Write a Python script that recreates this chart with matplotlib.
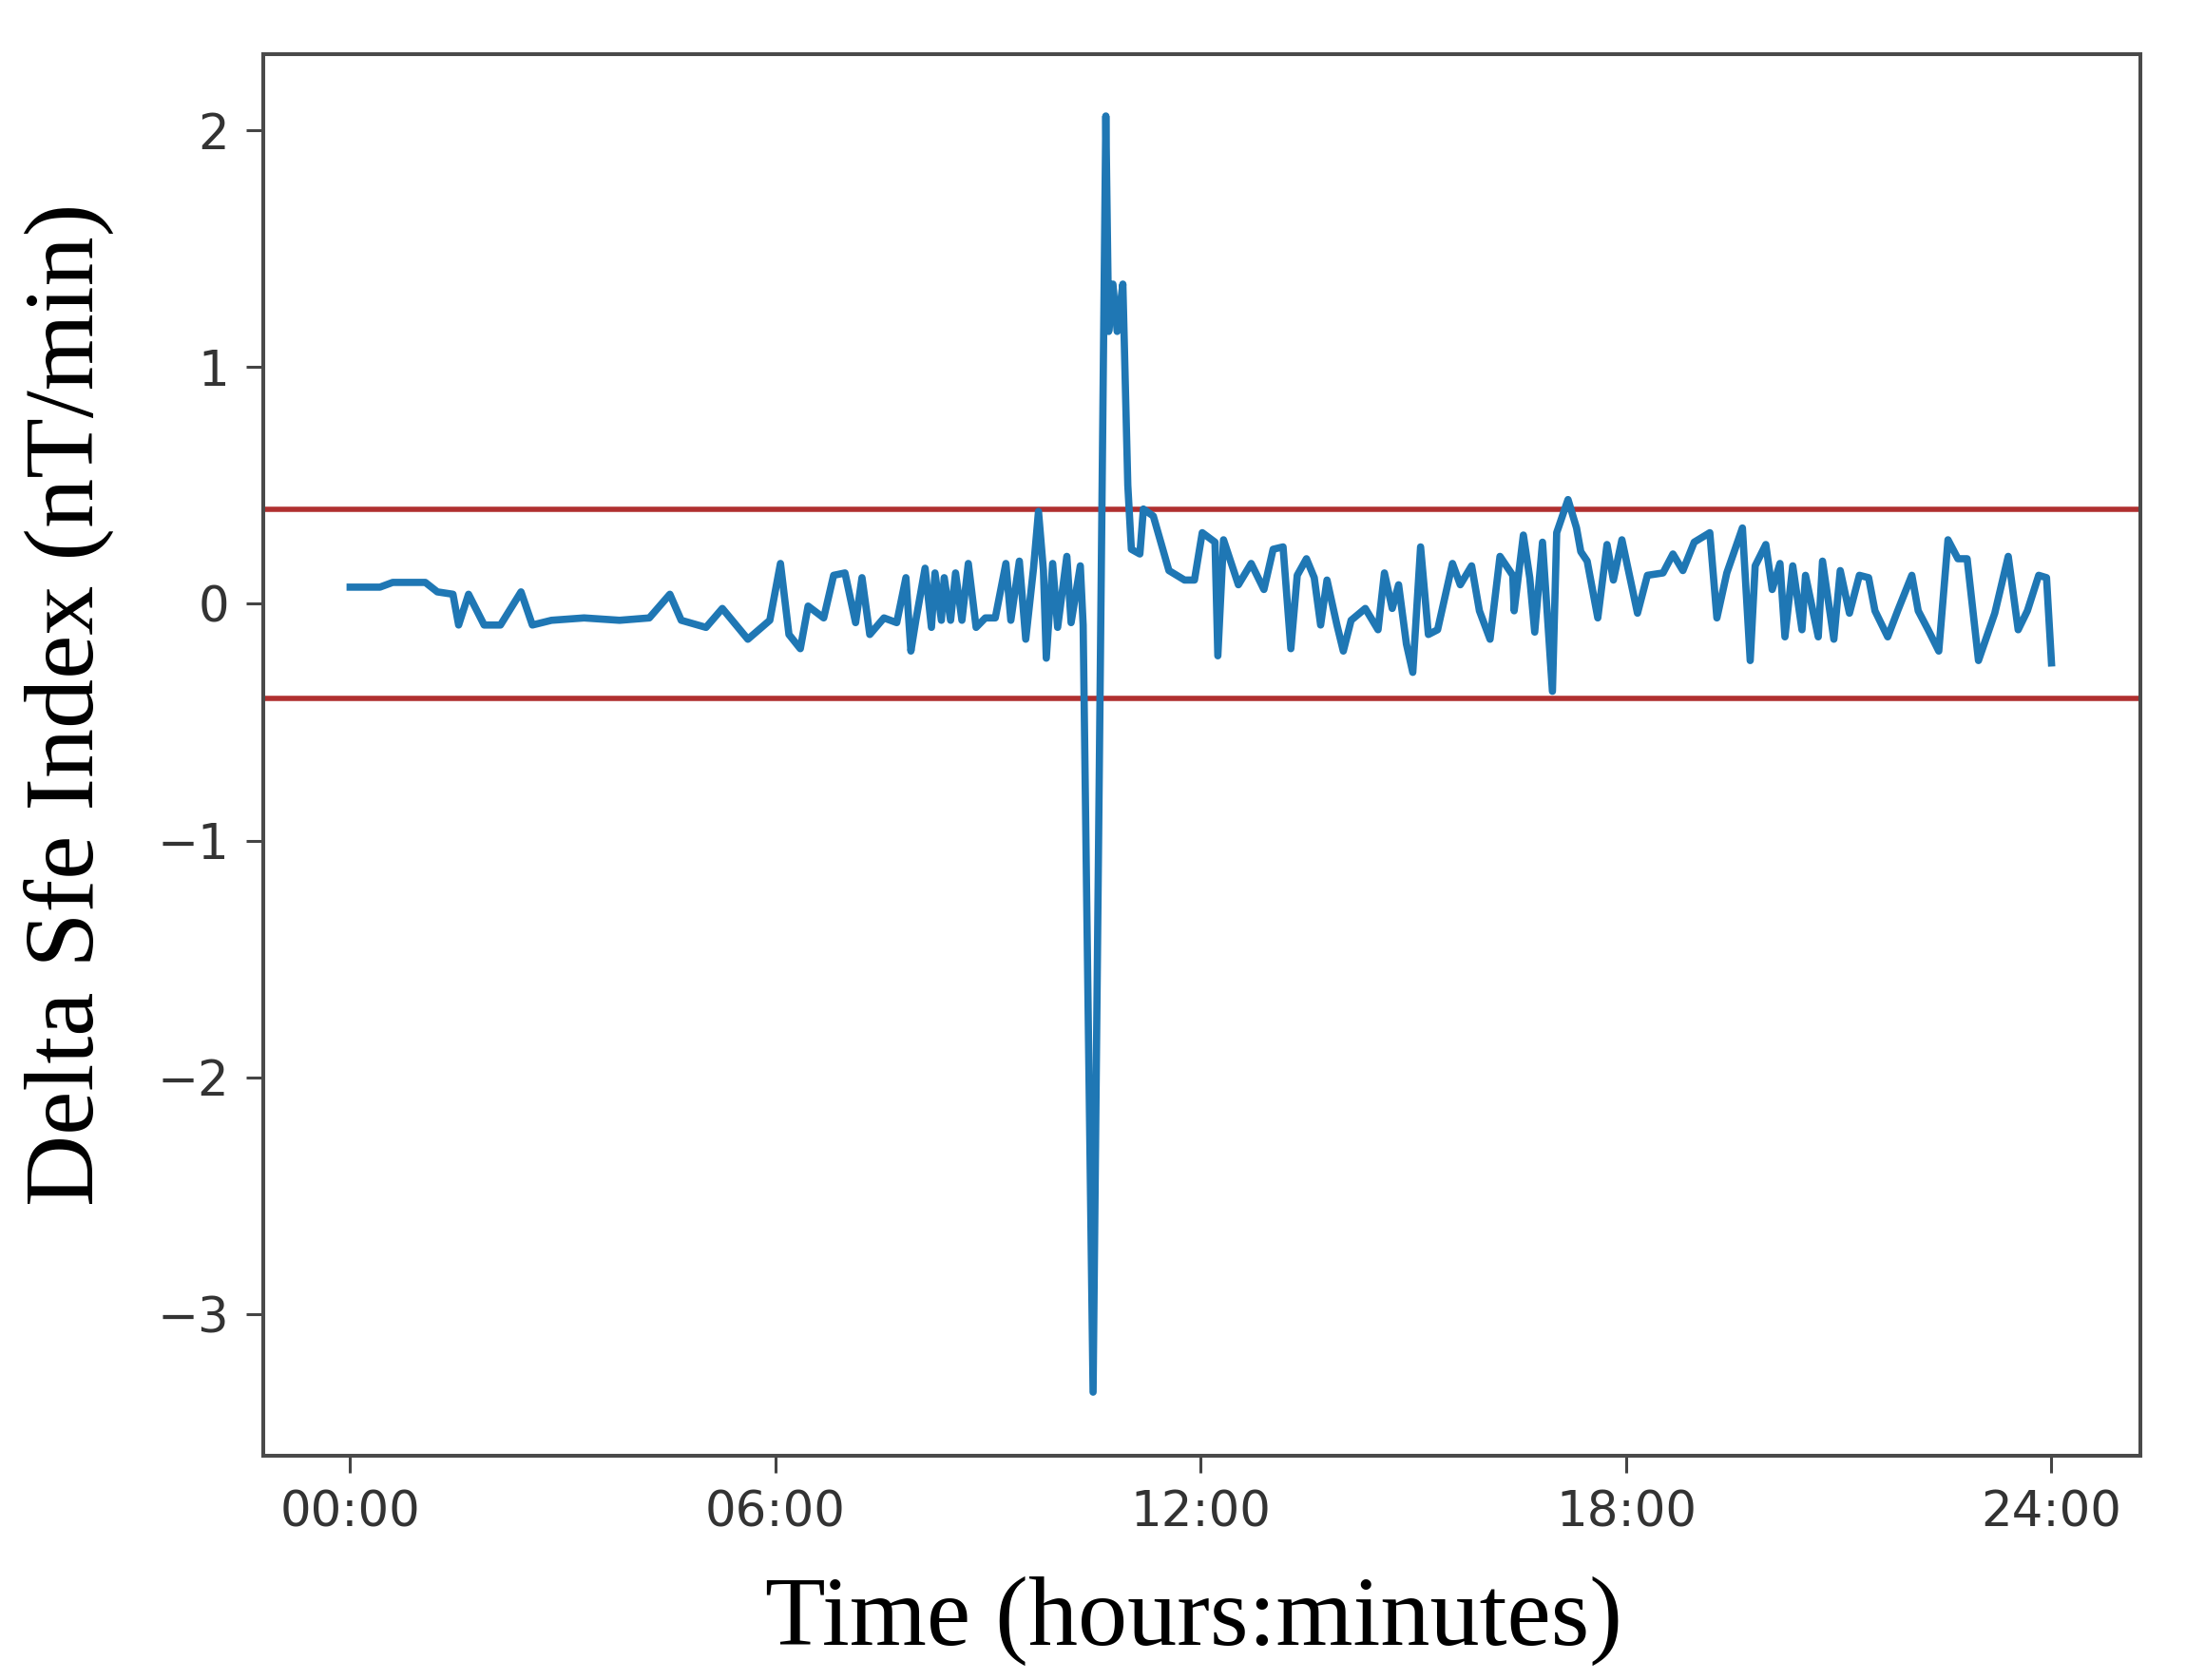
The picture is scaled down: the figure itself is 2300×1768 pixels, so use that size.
import numpy as np
import matplotlib
matplotlib.use("Agg")
import matplotlib.pyplot as plt

# time of day in hours, and the Delta Sfe index (nT/min)
hours = [0.00, 0.42, 0.60, 1.06, 1.23, 1.45, 1.53, 1.67, 1.89, 2.12,
         2.41, 2.57, 2.84, 3.30, 3.80, 4.22, 4.51, 4.67, 5.02, 5.25,
         5.61, 5.92, 6.07, 6.19, 6.35, 6.46, 6.68, 6.82, 6.98, 7.13,
         7.22, 7.33, 7.53, 7.71, 7.84, 7.91, 7.98, 8.11, 8.20, 8.25,
         8.34, 8.38, 8.47, 8.54, 8.63, 8.72, 8.83, 8.96, 9.10, 9.25,
         9.32, 9.44, 9.53, 9.64, 9.71, 9.78, 9.82, 9.91, 9.98, 10.11,
         10.17, 10.30, 10.34, 10.48, 10.66, 10.70, 10.76,
         10.82, 10.90, 10.97, 11.02, 11.14, 11.19, 11.33, 11.55, 11.77, 11.91,
         12.02, 12.20, 12.24, 12.32, 12.53, 12.71, 12.89, 13.02, 13.16, 13.27,
         13.36, 13.49, 13.60, 13.69, 13.78, 13.92, 14.01, 14.12, 14.32, 14.50,
         14.59, 14.70, 14.79, 14.90, 14.99, 15.10, 15.21, 15.34, 15.55, 15.66,
         15.82, 15.93, 16.08, 16.22, 16.40, 16.42, 16.55, 16.64, 16.71, 16.82,
         16.96, 17.02, 17.18, 17.30, 17.36, 17.45, 17.60, 17.73, 17.82, 17.94,
         18.16, 18.30, 18.52, 18.66, 18.80, 18.96, 19.18, 19.28, 19.42, 19.64,
         19.75, 19.82, 19.97, 20.06, 20.17, 20.24, 20.35, 20.48, 20.53, 20.71,
         20.77, 20.93, 21.02, 21.15, 21.29, 21.42, 21.51, 21.69, 21.83, 22.03,
         22.12, 22.26, 22.41, 22.54, 22.68, 22.81, 22.97, 23.20, 23.39, 23.53,
         23.66, 23.82, 23.93, 24.00]
sfe = [0.07, 0.07, 0.09, 0.09, 0.05, 0.04, -0.09, 0.04, -0.09, -0.09,
       0.05, -0.09, -0.07, -0.06, -0.07, -0.06, 0.04, -0.07, -0.10, -0.02,
       -0.15, -0.07, 0.17, -0.13, -0.19, -0.01, -0.06, 0.12, 0.13, -0.08,
       0.11, -0.13, -0.06, -0.08, 0.11, -0.20, -0.07, 0.15, -0.10, 0.13,
       -0.07, 0.11, -0.07, 0.13, -0.07, 0.17, -0.10, -0.06, -0.06, 0.17,
       -0.07, 0.18, -0.15, 0.15, 0.39, 0.14, -0.23, 0.17, -0.10, 0.20,
       -0.08, 0.16, -0.09, -3.33, 2.06, 1.15, 1.35,
       1.15, 1.35, 0.50, 0.23, 0.21, 0.40, 0.37, 0.14, 0.10, 0.10,
       0.30, 0.26, -0.22, 0.27, 0.08, 0.17, 0.06, 0.23, 0.24, -0.19,
       0.12, 0.19, 0.11, -0.09, 0.10, -0.09, -0.20, -0.07, -0.02, -0.11,
       0.13, -0.02, 0.08, -0.17, -0.29, 0.24, -0.13, -0.11, 0.17, 0.08,
       0.16, -0.03, -0.15, 0.20, 0.12, -0.03, 0.29, 0.11, -0.12, 0.26,
       -0.37, 0.30, 0.44, 0.32, 0.22, 0.18, -0.06, 0.25, 0.10, 0.27,
       -0.04, 0.12, 0.13, 0.21, 0.14, 0.26, 0.30, -0.06, 0.13, 0.32,
       -0.24, 0.16, 0.25, 0.06, 0.17, -0.14, 0.16, -0.11, 0.12, -0.14,
       0.18, -0.15, 0.14, -0.04, 0.12, 0.11, -0.03, -0.14, -0.03, 0.12,
       -0.03, -0.11, -0.20, 0.27, 0.19, 0.19, -0.24, -0.04, 0.20, -0.11,
       -0.03, 0.12, 0.11, -0.25]

threshold = 0.4
tick_hours = [0, 6, 12, 18, 24]
tick_labels = ['00:00', '06:00', '12:00', '18:00', '24:00']
y_ticks = [-3, -2, -1, 0, 1, 2]

fig = plt.figure(figsize=(23, 17.68), dpi=100)
ax = fig.add_axes([0.1203, 0.1333, 0.8587, 0.8343])

ax.axhline(threshold, color='#b03030', linewidth=4, zorder=1)
ax.axhline(-threshold, color='#b03030', linewidth=4, zorder=1)
ax.plot(hours, sfe, color='#1f77b4', linewidth=5.5, zorder=2)

ax.set_xlim(-1.23, 25.25)
ax.set_ylim(-3.60, 2.32)
ax.set_xticks(tick_hours)
ax.set_xticklabels(tick_labels)
ax.set_yticks(y_ticks)

for s in ax.spines.values():
    s.set_linewidth(2.9)
    s.set_color('#4a4a4a')
ax.tick_params(length=13, width=2.2, pad=12.5, labelsize=37,
               color='#444444', labelcolor='#333333')

ax.set_xlabel('Time (hours:minutes)', family='Liberation Serif', fontsize=75)
ax.xaxis.set_label_coords(0.4959, -0.1347)
ax.xaxis.label.set_va('baseline')
ax.set_ylabel('Delta Sfe Index (nT/min)', family='Liberation Serif', fontsize=75)
ax.yaxis.set_label_coords(-0.0905, 0.5365)
ax.yaxis.label.set_va('baseline')

fig.savefig('out.png', dpi=100)
